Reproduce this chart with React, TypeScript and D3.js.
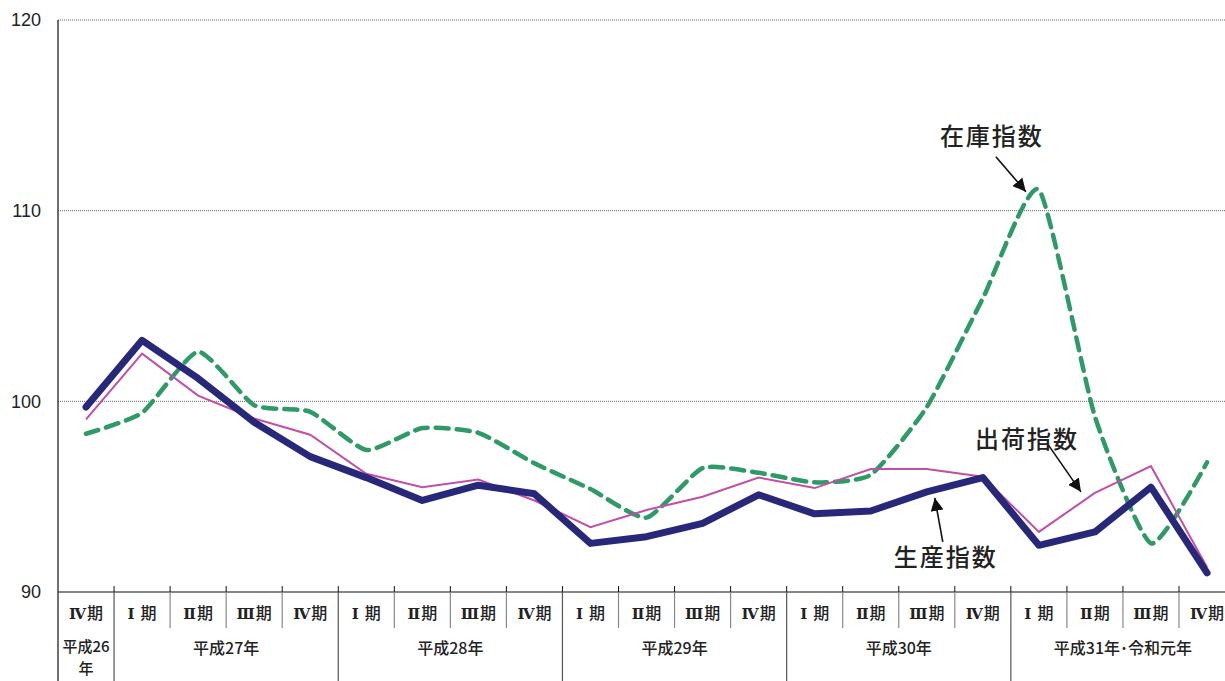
import React from 'react';
import * as d3 from 'd3';

const quarterNums = ['Ⅳ', 'Ⅰ', 'Ⅱ', 'Ⅲ', 'Ⅳ', 'Ⅰ', 'Ⅱ', 'Ⅲ', 'Ⅳ', 'Ⅰ', 'Ⅱ', 'Ⅲ', 'Ⅳ', 'Ⅰ', 'Ⅱ', 'Ⅲ', 'Ⅳ', 'Ⅰ', 'Ⅱ', 'Ⅲ', 'Ⅳ'];
const quarterSuffix = '期';
const yearLabels = [['平成26', '年'], ['平成27年'], ['平成28年'], ['平成29年'], ['平成30年'], ['平成31年･令和元年']];
const yearSpans = [1, 4, 4, 4, 4, 4];

const production = [99.7, 103.2, 101.2, 98.9, 97.1, 96.0, 94.8, 95.6, 95.15, 92.55, 92.9, 93.6, 95.1, 94.1, 94.25, 95.25, 96.0, 92.45, 93.15, 95.5, 91.0];
const shipments = [99.05, 102.5, 100.3, 99.1, 98.25, 96.2, 95.5, 95.9, 94.8, 93.4, 94.3, 95.0, 96.0, 95.45, 96.45, 96.45, 96.05, 93.15, 95.2, 96.6, 91.3];
const inventory = [98.3, 99.4, 102.6, 99.8, 99.45, 97.45, 98.6, 98.35, 96.75, 95.4, 93.9, 96.5, 96.25, 95.75, 96.15, 99.7, 105.4, 111.1, 99.2, 92.55, 96.8];

const yTicks = [90, 100, 110, 120];
const gridTicks = [100, 110, 120];

const W = 1225;
const H = 681;
const left = 58;
const bandW = 56.05;

const FONT_JP = '"Noto Sans CJK JP", "Noto Sans", sans-serif';
const FONT_ROMAN = '"DejaVu Serif", "Liberation Serif", serif';

export default function App() {
  const idx = d3.range(quarterNums.length);
  const x = d3.scaleBand<number>().domain(idx).range([left, left + bandW * idx.length]).padding(0);
  const y = d3.scaleLinear().domain([90, 120]).range([592, 20]);
  const cx = (i: number) => (x(i) as number) + x.bandwidth() / 2;

  const straight = d3.line<number>().x((_, i) => cx(i)).y(d => y(d));
  const smooth = d3.line<number>().x((_, i) => cx(i)).y(d => y(d)).curve(d3.curveCardinal.tension(0.45));

  const axisY = y(90);

  const yearStarts: number[] = [];
  let acc = 0;
  yearSpans.forEach(s => { yearStarts.push(acc); acc += s; });

  // arrows anchored to data points, offsets in px
  const annotations = [
    { text: '在庫指数', series: inventory, i: 17, tipDx: -13, tipDy: 2, fromDx: -43, fromDy: -33, textDx: -47, textDy: -53 },
    { text: '出荷指数', series: shipments, i: 18, tipDx: -14, tipDy: -1, fromDx: -48, fromDy: -50, textDx: -68, textDy: -53 },
    { text: '生産指数', series: production, i: 15, tipDx: 8, tipDy: 6, fromDx: 16, fromDy: 50, textDx: 19, textDy: 65 },
  ];

  return (
    <svg width={W} height={H} style={{ position: 'absolute', left: 0, top: 0, background: '#fff' }}>
      <defs>
        <marker id="arr" viewBox="0 0 10 10" refX="10" refY="5" markerWidth="13" markerHeight="13" markerUnits="userSpaceOnUse" orient="auto">
          <path d="M0,0 L10,5 L0,10 z" fill="#111" />
        </marker>
      </defs>

      {gridTicks.map(t => (
        <line key={t} x1={left} x2={W} y1={y(t)} y2={y(t)} stroke="#666" strokeWidth={1} strokeDasharray="1,1" />
      ))}

      <line x1={left} x2={left} y1={y(120)} y2={H} stroke="#111" strokeWidth={1.2} />
      <line x1={left} x2={W} y1={axisY} y2={axisY} stroke="#111" strokeWidth={1.2} />
      {yTicks.map(t => (
        <text key={t} x={41} y={y(t)} dy="0.36em" textAnchor="end" fontFamily='"Liberation Sans", Arial, sans-serif' fontSize={18} fill="#222">{t}</text>
      ))}

      {idx.slice(1).map(i => {
        const bx = x(i) as number;
        const isYear = yearStarts.includes(i);
        return (
          <g key={i}>
            <line x1={bx} x2={bx} y1={axisY - 6} y2={axisY} stroke="#111" strokeWidth={1} />
            <line x1={bx} x2={bx} y1={axisY} y2={isYear ? H : 628} stroke={isYear ? '#555' : '#888'} strokeWidth={1.2} />
          </g>
        );
      })}

      {quarterNums.map((q, i) => (
        <text key={i} x={cx(i)} y={613} dy="0.36em" textAnchor="middle" fontFamily={FONT_JP} fontSize={16} fontWeight={500} fill="#222">
          <tspan fontFamily={FONT_ROMAN} fontWeight={700} fontSize={15}>{q}</tspan>
          <tspan dx={q === 'Ⅰ' ? 6 : 1}>{quarterSuffix}</tspan>
        </text>
      ))}

      {yearLabels.map((lines, k) => {
        const start = yearStarts[k];
        const mid = ((x(start) as number) + (x(start + yearSpans[k] - 1) as number) + bandW) / 2;
        const wrapped = lines.length > 1;
        return lines.map((ln, j) => (
          <text key={k + '-' + j} x={mid} y={(wrapped ? 647 : 648) + j * 22} dy="0.36em" textAnchor="middle" fontFamily={FONT_JP} fontSize={wrapped ? 15 : 16} fontWeight={500} fill="#222">{ln}</text>
        ));
      })}

      <path d={smooth(inventory) || ''} fill="none" stroke="#2e9a68" strokeWidth={4.5} strokeDasharray="13,8" strokeLinecap="round" />
      <path d={straight(shipments) || ''} fill="none" stroke="#c04fa8" strokeWidth={2} />
      <path d={straight(production) || ''} fill="none" stroke="#28287a" strokeWidth={7} strokeLinejoin="round" strokeLinecap="round" />

      {annotations.map(a => {
        const px = cx(a.i);
        const py = y(a.series[a.i]);
        return (
          <g key={a.text}>
            <line x1={px + a.fromDx} y1={py + a.fromDy} x2={px + a.tipDx} y2={py + a.tipDy} stroke="#111" strokeWidth={1.6} markerEnd="url(#arr)" />
            <text x={px + a.textDx} y={py + a.textDy} dy="0.36em" textAnchor="middle" fontFamily={FONT_JP} fontSize={24} fontWeight={500} letterSpacing={2} fill="#222">{a.text}</text>
          </g>
        );
      })}
    </svg>
  );
}
